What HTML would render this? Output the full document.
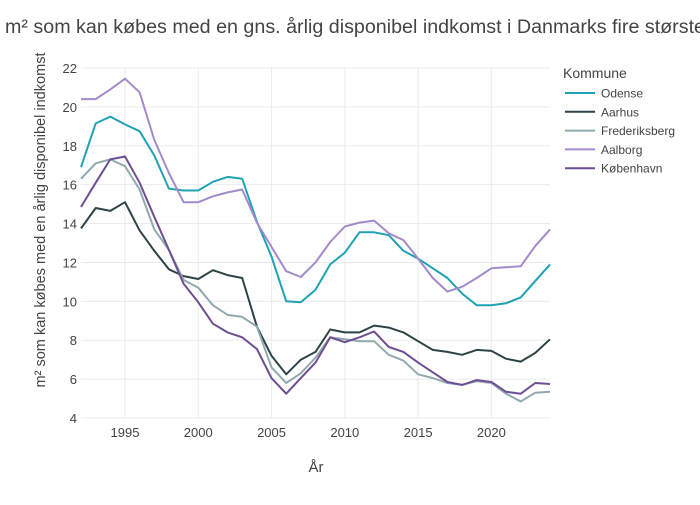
<!DOCTYPE html>
<html><head><meta charset="utf-8"><style>
body{margin:0;background:#fff;font-family:"Liberation Sans",sans-serif;}
svg text{font-family:"Liberation Sans",sans-serif;fill:#444;}
</style></head><body>
<svg id="c" width="700" height="500">
<text x="5" y="33" font-size="19" textLength="700" lengthAdjust="spacingAndGlyphs">m² som kan købes med en gns. årlig disponibel indkomst i Danmarks fire største</text>
<g id="grid"></g><g id="lines"></g>
<text x="316" y="472" font-size="15" text-anchor="middle">År</text>
<text transform="translate(45,220) rotate(-90)" font-size="15" text-anchor="middle" textLength="335" lengthAdjust="spacingAndGlyphs">m² som kan købes med en årlig disponibel indkomst</text>
<g id="legend"></g>
</svg>
<script>
const years=[];for(let y=1992;y<=2024;y++)years.push(y);
const xTicks=[1995,2000,2005,2010,2015,2020];
const yTicks=[4,6,8,10,12,14,16,18,20,22];
const seriesNames=["Odense","Aarhus","Frederiksberg","Aalborg","København"];
const colors=["#1fa2b4","#2d4347","#90aab0","#a38bca","#6d4f92"];
const odense=[16.9,19.15,19.5,19.1,18.75,17.5,15.8,15.7,15.7,16.15,16.4,16.3,14.1,12.3,10.0,9.95,10.6,11.9,12.5,13.55,13.55,13.4,12.6,12.2,11.7,11.2,10.4,9.8,9.8,9.9,10.2,11.05,11.9];
const aarhus=[13.75,14.8,14.65,15.1,13.65,12.6,11.65,11.3,11.15,11.6,11.35,11.2,8.7,7.2,6.25,7.0,7.4,8.55,8.4,8.4,8.75,8.65,8.4,7.95,7.5,7.4,7.25,7.5,7.45,7.05,6.9,7.35,8.05];
const frederiksberg=[16.3,17.1,17.3,16.95,15.75,13.7,12.65,11.1,10.7,9.8,9.3,9.2,8.7,6.6,5.8,6.3,7.1,8.15,8.05,7.95,7.95,7.25,6.95,6.25,6.05,5.8,5.7,5.9,5.8,5.25,4.85,5.3,5.35];
const aalborg=[20.4,20.4,20.9,21.45,20.75,18.3,16.6,15.1,15.1,15.4,15.6,15.75,14.05,12.8,11.55,11.25,12.0,13.05,13.85,14.05,14.15,13.5,13.15,12.2,11.2,10.5,10.75,11.2,11.7,11.75,11.8,12.85,13.7];
const kobenhavn=[14.85,16.1,17.3,17.45,16.1,14.35,12.65,10.9,9.95,8.85,8.4,8.15,7.55,6.05,5.25,6.05,6.85,8.15,7.9,8.15,8.45,7.65,7.4,6.85,6.35,5.85,5.7,5.95,5.85,5.35,5.25,5.8,5.75];
const allSeries=[odense,aarhus,frederiksberg,aalborg,kobenhavn];
const X0=81,X1=550,Y0=418,Y1=68;
const xs=v=>X0+(v-1992)/(2024-1992)*(X1-X0);
const ys=v=>Y0-(v-4)/(22-4)*(Y0-Y1);
const NS="http://www.w3.org/2000/svg";
const mk=(t,a,p)=>{const e=document.createElementNS(NS,t);for(const k in a)e.setAttribute(k,a[k]);p.appendChild(e);return e;};
const grid=document.getElementById('grid');
yTicks.forEach(v=>{
 const l=mk('line',{x1:X0,x2:X1,y1:ys(v),y2:ys(v),stroke:'#ebebeb','stroke-width':1},grid);
 
 
 const t=mk('text',{x:X0-4,y:ys(v)+5,'font-size':13,'text-anchor':'end'},grid);t.textContent=v;
 
 
});
xTicks.forEach(v=>{
 const l=mk('line',{x1:xs(v),x2:xs(v),y1:Y1,y2:Y0,stroke:'#ebebeb','stroke-width':1},grid);
 
 
 const t=mk('text',{x:xs(v),y:Y0+19,'font-size':13,'text-anchor':'middle'},grid);t.textContent=v;
 
 
});
const lines=document.getElementById('lines');
allSeries.forEach((s,i)=>{
 const d=s.map((v,j)=>(j?'L':'M')+xs(years[j]).toFixed(1)+','+ys(v).toFixed(1)).join('');
 const p=mk('path',{d:d,fill:'none',stroke:colors[i],'stroke-width':2,'stroke-linejoin':'round'},lines);
 
 
});
const lg=document.getElementById('legend');
const lt=mk('text',{x:563,y:78,'font-size':14},lg);lt.textContent='Kommune';


seriesNames.forEach((n,i)=>{
 const y=93+i*18.8;
 const g=mk('g',{},lg);
 
 
 mk('line',{x1:565,x2:595,y1:y,y2:y,stroke:colors[i],'stroke-width':2},g);
 const t=mk('text',{x:601,y:y+4.5,'font-size':12},g);t.textContent=n;
});
</script>
</body></html>
